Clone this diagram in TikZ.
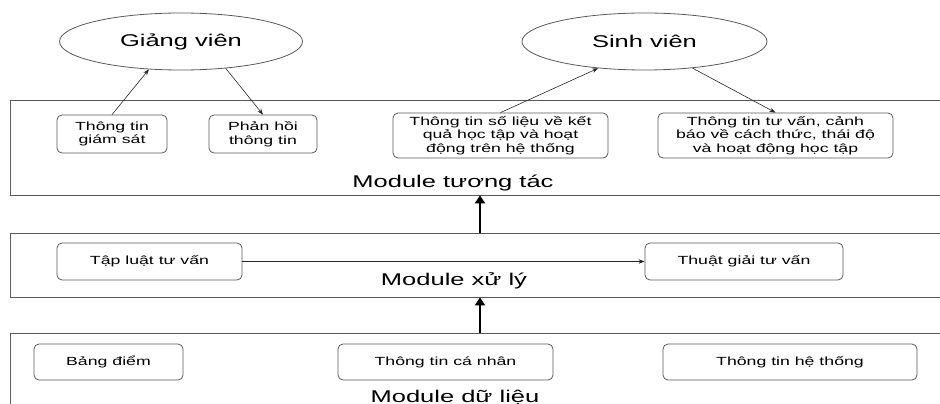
\documentclass[tikz,border=0pt]{standalone}
\usepackage{fontspec}
\setmainfont{Liberation Sans}[FakeStretch=1.5]
\usetikzlibrary{shapes.geometric,arrows.meta}
\definecolor{edge}{gray}{0.35}
\tikzset{
  frame/.style={draw=edge, line width=0.8pt, rectangle, inner sep=0pt, anchor=center},
  infobox/.style={draw=edge, line width=0.8pt, rounded corners=5pt, inner sep=0pt, align=center,
    font=\fontsize{11.8}{13.4}\selectfont},
  actor/.style={draw=edge, line width=0.8pt, ellipse, inner sep=0pt, minimum width=243pt, minimum height=57pt,
    font=\fontsize{17}{20}\selectfont},
  modlabel/.style={anchor=base, font=\fontsize{17}{20}\selectfont},
  thin arrow/.style={draw=black!85, line width=0.6pt, -{Stealth[length=6pt,width=4.5pt]}},
  big arrow/.style={draw=black, line width=2.8pt, -{Triangle[length=8pt,width=10pt]}}
}
\begin{document}
\begin{tikzpicture}[x=1pt,y=-1pt]
\useasboundingbox (0,0) rectangle (940,404);
% module frames
\node[frame, minimum width=960pt, minimum height=95pt] (tuongtac) at (490,147.5) {};
\node[frame, minimum width=960pt, minimum height=64pt] (xuly) at (490,265) {};
\node[frame, minimum width=960pt, minimum height=100pt] (dulieu) at (490,383) {};
\node[modlabel] (lbtt) at (453,187) {Module tương tác};
\node[modlabel] (lbxl) at (454,285) {Module xử lý};
\node[modlabel] (lbdl) at (455,402) {Module dữ liệu};
% actors
\node[actor] (gv) at (181,41.5) {Giảng viên};
\node[actor, minimum width=245pt] (sv) at (644.5,41.5) {Sinh viên};
% interaction boxes
\node[infobox, minimum width=110pt, minimum height=38pt] (gs) at (112,134) {Thông tin\\giám sát};
\node[infobox, minimum width=108pt, minimum height=38pt] (ph) at (263,134) {Phản hồi\\thông tin};
\node[infobox, minimum width=215pt, minimum height=45pt] (sl) at (500.5,135.5) {Thông tin số liệu về kết\\quả học tập và hoạt\\động trên hệ thống};
\node[infobox, minimum width=235pt, minimum height=45pt] (tv) at (775.5,135.5) {Thông tin tư vấn, cảnh\\báo về cách thức, thái độ\\và hoạt động học tập};
% processing boxes
\node[infobox, minimum width=185pt, minimum height=37pt] (tl) at (149.5,261.5) {Tập luật tư vấn};
\node[infobox, minimum width=198pt, minimum height=37pt] (tg) at (744,261.5) {Thuật giải tư vấn};
% data boxes
\node[infobox, minimum width=149pt, minimum height=36pt] (bd) at (108.5,362) {Bảng điểm};
\node[infobox, minimum width=215pt, minimum height=36pt] (cn) at (445.5,362) {Thông tin cá nhân};
\node[infobox, minimum width=254pt, minimum height=36pt] (ht) at (790,362) {Thông tin hệ thống};
% connectors
\draw[thin arrow] (gs.north) -- (gv.221.6);
\draw[thin arrow] (gv.329.6) -- (ph.north);
\draw[thin arrow] (sl.north) -- (sv.210.8);
\draw[thin arrow] (sv.331) -- (tv.north);
\draw[thin arrow] (tl.east) -- (tg.west);
\coordinate (ax) at (480,0);
\draw[big arrow] (xuly.north -| ax) -- (tuongtac.south -| ax);
\draw[big arrow] (dulieu.north -| ax) -- (xuly.south -| ax);
\end{tikzpicture}
\end{document}
